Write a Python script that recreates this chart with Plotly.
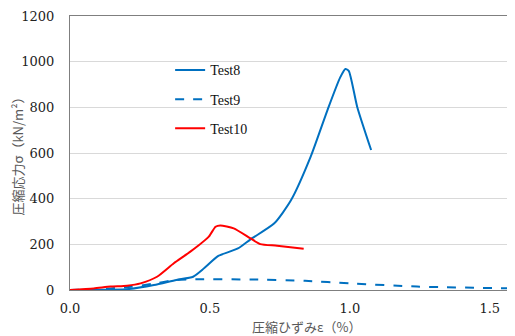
import plotly.graph_objects as go

# Test8 (solid blue)
t8_x = [0.0, 0.10, 0.20, 0.30, 0.38, 0.44, 0.48, 0.53, 0.60, 0.645, 0.73, 0.79, 0.86, 0.92, 0.965, 0.984, 0.996, 1.026, 1.076]
t8_y = [0, 1, 3, 22, 44, 58, 96, 149, 182, 222, 292, 394, 584, 788, 930, 968, 960, 803, 613]

# Test9 (dashed blue)
t9_x = [0.0, 0.08, 0.145, 0.22, 0.29, 0.38, 0.47, 0.65, 0.84, 1.0, 1.24, 1.59]
t9_y = [0, 3, 7, 14, 26, 44, 47, 46, 40, 29, 15, 7]

# Test10 (solid red)
t10_x = [0.0, 0.085, 0.145, 0.204, 0.252, 0.311, 0.371, 0.43, 0.496, 0.52, 0.537, 0.585, 0.645, 0.68, 0.74, 0.835]
t10_y = [0, 7, 15, 19, 29, 58, 117, 168, 234, 277, 283, 270, 226, 201, 194, 181]

names = ["Test8", "Test9", "Test10"]
y_ticks = [0, 200, 400, 600, 800, 1000, 1200]
x_ticks = [0.0, 0.5, 1.0, 1.5]
x_tick_text = ["0.0", "0.5", "1.0", "1.5"]

BLUE = "#0070C0"
RED = "#FF0000"

fig = go.Figure()
fig.add_trace(go.Scatter(x=t8_x, y=t8_y, mode="lines", name=names[0], legendgroup="a",
                         line=dict(color=BLUE, width=2, shape="spline", smoothing=0.6)))
fig.add_trace(go.Scatter(x=t9_x, y=t9_y, mode="lines", name=names[1], legendgroup="b",
                         line=dict(color=BLUE, width=2, dash="dash", shape="spline", smoothing=0.6)))
fig.add_trace(go.Scatter(x=t10_x, y=t10_y, mode="lines", name=names[2], legendgroup="c",
                         line=dict(color=RED, width=2, shape="spline", smoothing=0.6)))

SERIF = "DejaVu Serif"
tickfont = dict(family=SERIF, size=13, color="#222222")

# page body has an 8px margin, so the figure is sized/placed to compensate
fig.update_layout(
    width=507, height=328,
    margin=dict(l=61.5, r=0, t=8, b=46, autoexpand=False),
    paper_bgcolor="white", plot_bgcolor="white",
    showlegend=True,
    legend=dict(x=0.225, y=0.86, xanchor="left", yanchor="top",
                bgcolor="rgba(0,0,0,0)", borderwidth=0, itemwidth=30, tracegroupgap=8,
                font=dict(family="Liberation Serif", size=14, color="#111111")),
    xaxis=dict(range=[0, 1.59], tickvals=x_ticks, ticktext=x_tick_text, showgrid=False,
               zeroline=False, showline=True, linecolor="#7F7F7F", linewidth=1, mirror=True,
               ticks="", tickfont=tickfont, ticklabelstandoff=6, automargin=False),
    yaxis=dict(range=[0, 1200], tickvals=y_ticks, showgrid=True, gridcolor="#D9D9D9",
               gridwidth=1, zeroline=False, showline=True, linecolor="#7F7F7F", linewidth=1,
               ticks="", tickfont=tickfont, ticklabelstandoff=12, automargin=False,
               title=dict(text="圧縮応力σ（kN/m²）", standoff=2,
                          font=dict(family="Noto Sans CJK JP", size=13, color="#595959"))),
)

# white legend box area (hides the gridline behind the legend, as in the original)
fig.add_shape(type="rect", xref="paper", yref="paper", x0=0.152, x1=0.5, y0=0.54, y1=0.82,
              fillcolor="white", line=dict(width=0), layer="between")

fig.add_annotation(text="圧縮ひずみε（%）", xref="paper", yref="paper", x=0.533, y=-0.135,
                   xanchor="center", yanchor="middle", showarrow=False,
                   font=dict(family="Noto Sans CJK JP", size=13, color="#595959"))

fig.write_html("out.html")
